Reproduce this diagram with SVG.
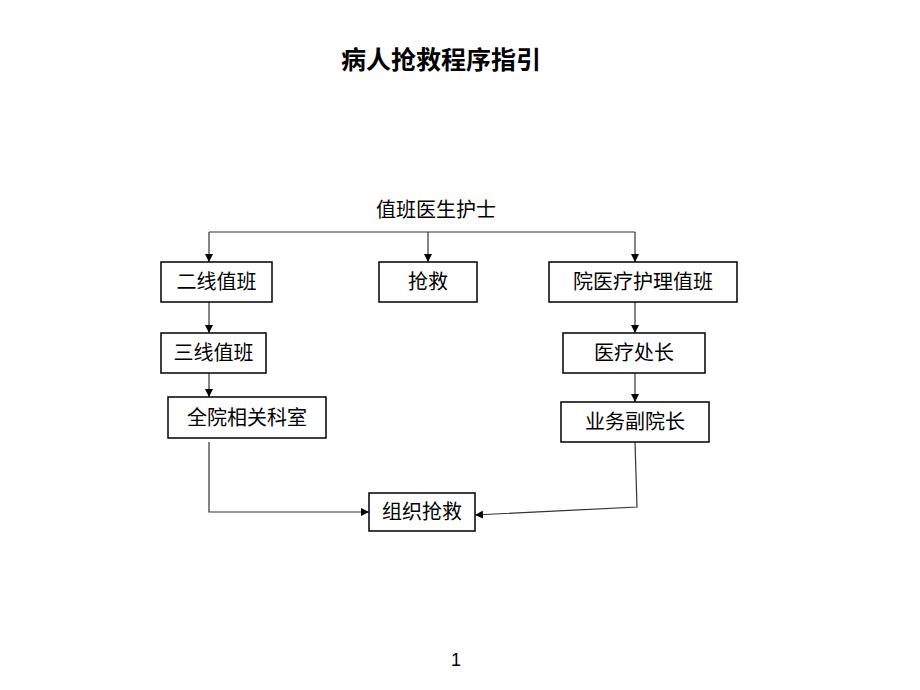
<svg xmlns="http://www.w3.org/2000/svg" width="920" height="690" viewBox="0 0 920 690">
<defs>
<marker id="arr" viewBox="0 0 10 10" refX="10" refY="5" markerWidth="8" markerHeight="8" markerUnits="userSpaceOnUse" orient="auto">
<path d="M0,0 L10,5 L0,10 z" fill="#000"/>
</marker>
<style>
.box{fill:#fff;stroke:#000;stroke-width:1.5}
.t{font-family:"Liberation Sans","Noto Sans CJK SC",sans-serif;font-size:20px;fill:#000;text-anchor:middle;dominant-baseline:central}
.c{fill:none;stroke:#333;stroke-width:1.2;marker-end:url(#arr)}
.l{fill:none;stroke:#333;stroke-width:1.2}
</style>
</defs>
<rect width="920" height="690" fill="#fff"/>
<text x="441" y="60" style="font-family:'Liberation Sans','Noto Sans CJK SC',sans-serif;font-size:25px;font-weight:bold;text-anchor:middle;dominant-baseline:central">病人抢救程序指引</text>
<text x="436" y="210" class="t">值班医生护士</text>
<g id="connectors">
<path class="l" d="M209,232 H635"/>
<path class="c" d="M209,232 V262"/>
<path class="c" d="M428,232 V262"/>
<path class="c" d="M635,232 V262"/>
<path class="c" d="M209,302 V333"/>
<path class="c" d="M209,373 V397"/>
<path class="c" d="M635,302 V333"/>
<path class="c" d="M635,373 V402"/>
<path class="c" d="M209,442 V512 H369"/>
<path class="c" d="M635,442 L637,507 L475,515"/>
</g>
<g id="n1"><rect class="box" x="161" y="262" width="111" height="40"/><text class="t" x="216.5" y="282">二线值班</text></g>
<g id="n2"><rect class="box" x="379" y="262" width="98" height="40"/><text class="t" x="428" y="282">抢救</text></g>
<g id="n3"><rect class="box" x="549" y="262" width="188" height="40"/><text class="t" x="643" y="282">院医疗护理值班</text></g>
<g id="n4"><rect class="box" x="161" y="333" width="105" height="40"/><text class="t" x="213.5" y="353">三线值班</text></g>
<g id="n5"><rect class="box" x="168" y="397" width="158" height="41"/><text class="t" x="247" y="417.5">全院相关科室</text></g>
<g id="n6"><rect class="box" x="563" y="333" width="142" height="40"/><text class="t" x="634" y="353">医疗处长</text></g>
<g id="n7"><rect class="box" x="561" y="402" width="148" height="40"/><text class="t" x="635" y="422">业务副院长</text></g>
<g id="n8"><rect class="box" x="369" y="493" width="106" height="38"/><text class="t" x="422" y="512">组织抢救</text></g>
<text x="456" y="660" style="font-family:'Liberation Sans',sans-serif;font-size:18px;text-anchor:middle;dominant-baseline:central">1</text>
</svg>
